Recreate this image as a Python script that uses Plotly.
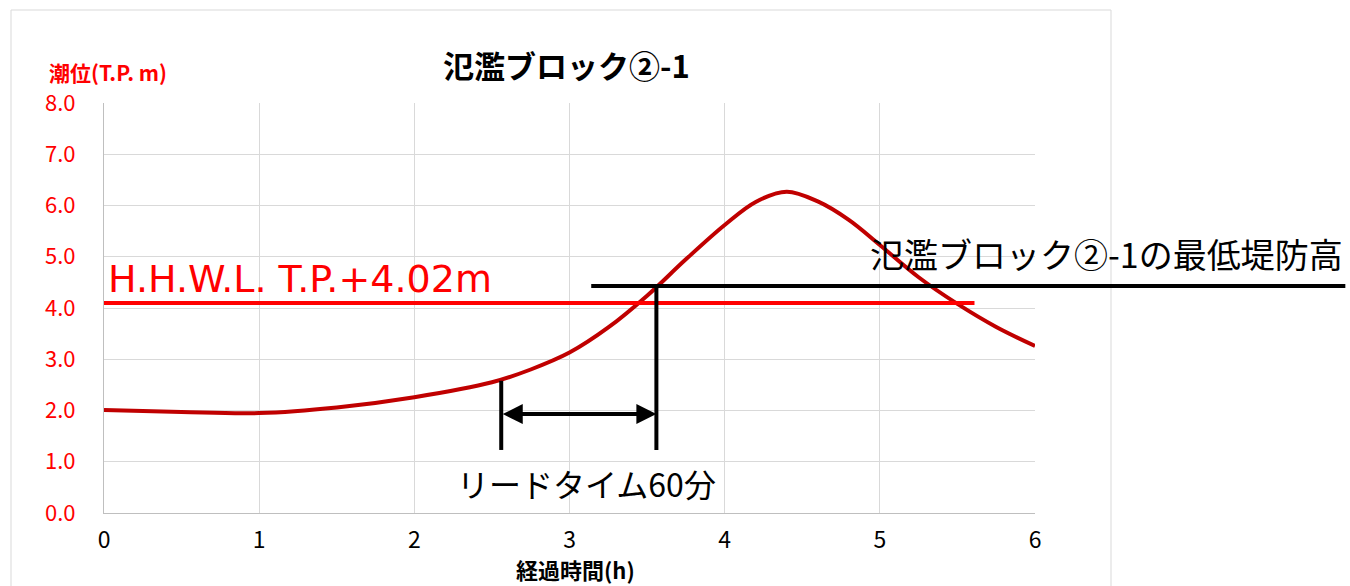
import plotly.graph_objects as go

# ---- data ----
time_h = [0, 0.5, 1.0, 1.5, 2.0, 2.5, 2.75, 3.0, 3.25, 3.5, 3.75, 4.0, 4.2, 4.4, 4.6, 4.8, 5.0, 5.25, 5.5, 5.75, 6.0]
tide_m = [2.01, 1.97, 1.95, 2.06, 2.26, 2.55, 2.8, 3.13, 3.62, 4.24, 4.95, 5.62, 6.07, 6.27, 6.08, 5.72, 5.23, 4.6, 4.08, 3.63, 3.26]

x_ticks = [0, 1, 2, 3, 4, 5, 6]
y_ticks = [0, 1, 2, 3, 4, 5, 6, 7, 8]
y_tick_labels = ["0.0", "1.0", "2.0", "3.0", "4.0", "5.0", "6.0", "7.0", "8.0"]

hhwl_level = 4.1          # drawn H.H.W.L. line level
hhwl_end = 5.61
levee_level = 4.43        # lowest levee crown height
levee_start = 3.14
levee_end = 8.0
lead_start = 2.56
lead_end = 3.56
lead_start_top = 2.58
lead_bottom = 1.23
arrow_level = 1.93

X_RANGE = [0, 6]
Y_RANGE = [0, 8]

FONT = "Noto Sans CJK JP"
W, H = 1350, 586
ML, MR, MT, MB = 104, 315, 103, 73
PW, PH = W - ML - MR, H - MT - MB


def px_x(p):
    return (p - ML) / PW


def px_y(p):
    return (H - MB - p) / PH


def dx(v):
    return (v - X_RANGE[0]) / (X_RANGE[1] - X_RANGE[0])


def dy(v):
    return (v - Y_RANGE[0]) / (Y_RANGE[1] - Y_RANGE[0])


fig = go.Figure()
fig.add_trace(go.Scatter(
    x=time_h, y=tide_m, mode="lines",
    line=dict(color="#c00000", width=4, shape="spline", smoothing=1.0),
    showlegend=False, hoverinfo="skip",
))

shapes = [
    # chart border
    dict(type="rect", xref="paper", yref="paper",
         x0=px_x(11), x1=px_x(1111), y0=px_y(620), y1=px_y(10),
         line=dict(color="#d9d9d9", width=1), layer="below"),
    # H.H.W.L. line
    dict(type="line", xref="x", yref="y", x0=0, x1=hhwl_end,
         y0=hhwl_level, y1=hhwl_level, line=dict(color="#ff0000", width=4)),
    # levee crown line (extends beyond plot)
    dict(type="line", xref="paper", yref="paper", x0=dx(levee_start), x1=dx(levee_end),
         y0=dy(levee_level), y1=dy(levee_level), line=dict(color="#000000", width=4)),
    # lead-time verticals
    dict(type="line", xref="x", yref="y", x0=lead_start, x1=lead_start,
         y0=lead_bottom, y1=lead_start_top, line=dict(color="#000000", width=4)),
    dict(type="line", xref="x", yref="y", x0=lead_end, x1=lead_end,
         y0=lead_bottom, y1=levee_level, line=dict(color="#000000", width=4)),
]

annotations = [
    dict(text="<b>氾濫ブロック②-1</b>", xref="paper", yref="paper",
         x=px_x(566), y=px_y(65), xanchor="center", yanchor="middle",
         showarrow=False, font=dict(family=FONT, size=31, color="#000000")),
    dict(text="<b>潮位(T.P. m)</b>", xref="paper", yref="paper",
         x=px_x(47), y=px_y(72), xanchor="left", yanchor="middle",
         showarrow=False, font=dict(family=FONT, size=21, color="#ff0000")),
    dict(text="<b>経過時間(h)</b>", xref="paper", yref="paper",
         x=px_x(575), y=px_y(569), xanchor="center", yanchor="middle",
         showarrow=False, font=dict(family=FONT, size=22, color="#000000")),
    dict(text="H.H.W.L. T.P.+4.02m", xref="x", yref="y",
         x=0.01, y=4.57, xanchor="left", yanchor="middle",
         showarrow=False, font=dict(family="DejaVu Sans", size=38, color="#ff0000")),
    dict(text="氾濫ブロック②-1の最低堤防高", xref="paper", yref="paper",
         x=dx(levee_end), y=px_y(253), xanchor="right", yanchor="middle",
         showarrow=False, font=dict(family=FONT, size=34, color="#000000")),
    dict(text="リードタイム60分", xref="x", yref="y",
         x=3.11, y=0.585, xanchor="center", yanchor="middle",
         showarrow=False, font=dict(family=FONT, size=32, color="#000000")),
    # double arrow
    dict(text="", xref="x", yref="y", axref="x", ayref="y",
         x=lead_end, y=arrow_level, ax=lead_start, ay=arrow_level,
         showarrow=True, arrowside="end+start", arrowhead=2, startarrowhead=2,
         arrowsize=1, startarrowsize=1, arrowwidth=4, arrowcolor="#000000",
         standoff=0, startstandoff=0),
]

fig.update_layout(
    width=W, height=H,
    margin=dict(l=ML, r=MR, t=MT, b=MB, pad=0),
    paper_bgcolor="#ffffff", plot_bgcolor="#ffffff",
    shapes=shapes, annotations=annotations,
    showlegend=False,
    xaxis=dict(range=X_RANGE, tickvals=x_ticks, ticktext=[str(v) for v in x_ticks],
               showgrid=True, gridcolor="#d9d9d9", gridwidth=1,
               showline=True, linecolor="#bfbfbf", linewidth=1,
               zeroline=False, ticks="outside", ticklen=6, tickcolor="rgba(0,0,0,0)",
               tickfont=dict(family=FONT, size=23, color="#000000"), fixedrange=True),
    yaxis=dict(range=Y_RANGE, tickvals=y_ticks, ticktext=y_tick_labels,
               showgrid=True, gridcolor="#d9d9d9", gridwidth=1,
               showline=True, linecolor="#bfbfbf", linewidth=1,
               zeroline=False, ticks="outside", ticklen=23, tickcolor="rgba(0,0,0,0)",
               tickfont=dict(family=FONT, size=22, color="#ff0000"), fixedrange=True),
)

fig.write_html("out.html")
